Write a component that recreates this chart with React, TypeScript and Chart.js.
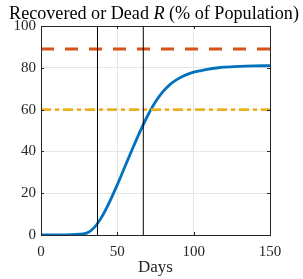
import React, { useEffect, useRef } from "react";
import { Chart, registerables } from "chart.js";

Chart.register(...registerables);

const days = [0, 10, 15, 20, 25, 30, 35, 40, 45, 50, 55, 60, 65, 70, 75, 80, 85, 90, 95, 100, 105, 110, 115, 120, 130, 140, 150];
const recovered = [0, 0, 0.05, 0.15, 0.4, 0.9, 3.65, 8.9, 16.0, 24.1, 32.8, 41.4, 49.7, 57.3, 63.7, 68.7, 72.3, 74.8, 76.6, 77.9, 78.7, 79.4, 79.9, 80.3, 80.7, 80.9, 81.0];
const markerDays = [37, 67];
const upperLevel = 89;
const lowerLevel = 60;
const xTicks = [0, 50, 100, 150];
const yTicks = [0, 20, 40, 60, 80, 100];
const titleParts = [
  { text: "Recovered or Dead ", italic: false },
  { text: "R", italic: true },
  { text: " (% of Population)", italic: false },
];
const xTitle = "Days";

const FONT = "'Liberation Serif', serif";
const AXIS = "#262626";

export default function App() {
  const ref = useRef<HTMLCanvasElement | null>(null);
  useEffect(() => {
    document.body.style.margin = "0";
    const canvas = ref.current!;
    const boxPlugin = {
      id: "boxTicks",
      afterDraw(chart: any) {
        const { ctx, chartArea: a, scales } = chart;
        ctx.save();
        ctx.strokeStyle = AXIS;
        ctx.lineWidth = 1;
        ctx.strokeRect(Math.round(a.left) + 0.5, Math.round(a.top) + 0.5, Math.round(a.right - a.left), Math.round(a.bottom - a.top));
        const L = 3;
        ctx.beginPath();
        for (const v of xTicks) {
          const px = Math.round(scales.x.getPixelForValue(v)) + 0.5;
          ctx.moveTo(px, a.bottom);
          ctx.lineTo(px, a.bottom - L);
          ctx.moveTo(px, a.top);
          ctx.lineTo(px, a.top + L);
        }
        for (const v of yTicks) {
          const py = Math.round(scales.y.getPixelForValue(v)) + 0.5;
          ctx.moveTo(a.left, py);
          ctx.lineTo(a.left + L, py);
          ctx.moveTo(a.right, py);
          ctx.lineTo(a.right - L, py);
        }
        ctx.stroke();
        // title with italic R
        ctx.fillStyle = "#000";
        ctx.textBaseline = "alphabetic";
        const measure = (size: number) => {
          let t = 0;
          for (const p of titleParts) {
            ctx.font = `${p.italic ? "italic " : ""}${size}px ${FONT}`;
            t += ctx.measureText(p.text).width;
          }
          return t;
        };
        const size = Math.min(19, 16 * 290 / measure(16));
        const total = measure(size);
        let x = 154 - total / 2;
        for (const p of titleParts) {
          ctx.font = `${p.italic ? "italic " : ""}${size}px ${FONT}`;
          ctx.fillText(p.text, x, 19);
          x += ctx.measureText(p.text).width;
        }
        ctx.restore();
      },
    };
    const lineDs = (y: number, color: string, dash: number[]) => ({
      data: [{ x: 0, y }, { x: 150, y }],
      borderColor: color,
      borderWidth: 2.8,
      borderDash: dash,
      pointRadius: 0,
    });
    const chart = new Chart(canvas, {
      type: "line",
      data: {
        datasets: [
          ...markerDays.map((d) => ({
            data: [{ x: d, y: 0 }, { x: d, y: 100 }],
            borderColor: "#000",
            borderWidth: 1,
            pointRadius: 0,
          })),
          lineDs(upperLevel, "#D95319", [13, 11]),
          lineDs(lowerLevel, "#EDB120", [10, 4, 4, 4]),
          {
            data: days.map((d, i) => ({ x: d, y: recovered[i] })),
            borderColor: "#0072BD",
            borderWidth: 2.8,
            pointRadius: 0,
            cubicInterpolationMode: "monotone",
          },
        ],
      },
      options: {
        animation: false,
        responsive: false,
        layout: { padding: { top: 26, right: 33, left: 0, bottom: 0 } },
        plugins: { legend: { display: false }, tooltip: { enabled: false }, title: { display: false } },
        scales: {
          x: {
            type: "linear",
            min: 0,
            max: 150,
            afterBuildTicks: (s: any) => { s.ticks = xTicks.map((v) => ({ value: v })); },
            afterFit: (s: any) => { s.height = 44; },
            grid: { color: "#e6e6e6", drawTicks: false },
            border: { display: false },
            ticks: { color: "#262626", font: { family: FONT, size: 15 }, padding: 8, maxRotation: 0 },
            title: { display: true, text: xTitle, color: "#262626", font: { family: FONT, size: 17 }, padding: { top: 0, bottom: 1 } },
          },
          y: {
            min: 0,
            max: 100,
            afterBuildTicks: (s: any) => { s.ticks = yTicks.map((v) => ({ value: v })); },
            afterFit: (s: any) => { s.width = 41; },
            grid: { color: "#e6e6e6", drawTicks: false },
            border: { display: false },
            ticks: { color: "#262626", font: { family: FONT, size: 15 }, padding: 5 },
          },
        },
      },
      plugins: [boxPlugin],
    } as any);
    return () => chart.destroy();
  }, []);
  return <canvas ref={ref} width={303} height={279} style={{ display: "block" }} />;
}
